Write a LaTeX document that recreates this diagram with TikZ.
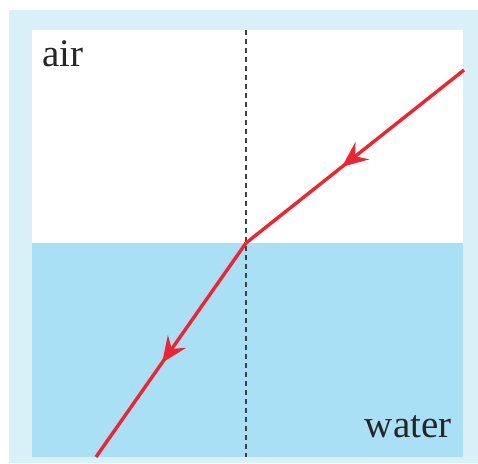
\documentclass[tikz,border=0pt]{standalone}
\usepackage{fontspec}
\setmainfont{Liberation Serif}
\usetikzlibrary{arrows.meta,decorations.markings}
\definecolor{frameblue}{HTML}{D9F0F8}
\definecolor{waterblue}{HTML}{A9E0F6}
\definecolor{rayred}{HTML}{EE2530}
\tikzset{
  medium/.style={fill=#1, draw=none},
  label/.style={font=\fontsize{19.5}{21}\selectfont, text=black!85, inner sep=0pt},
  normal/.style={draw=black!75, line width=0.7pt, dash pattern=on 2.5pt off 2pt},
  ray/.style={draw=rayred, line width=1.7pt, line join=round,
    postaction={decorate, decoration={markings,
      mark=at position 0.56 with {\arrow{Stealth[length=13pt,width=11pt,inset=4.5pt]}}}}}
}
\begin{document}
\begin{tikzpicture}[x=0.5pt,y=-0.5pt]
\useasboundingbox (0,0) rectangle (478,463);
% frame and media
\fill[medium=frameblue] (9,10) rectangle (478,463);
\fill[medium=white] (32,30) rectangle (463,243);
\fill[medium=waterblue] (32,243) rectangle (463,457);
% normal to the surface
\coordinate (ntop) at (246,30);
\coordinate (nbot) at (246,457);
\draw[normal] (ntop) -- (nbot);
% ray
\coordinate (src) at (464,70);
\coordinate (hit) at (246,243);
\coordinate (end) at (96,457);
\draw[ray] (src) -- (hit);
\draw[ray] (hit) -- (end);
% labels
\node[label, anchor=base west] (air) at (42,66) {air};
\node[label, anchor=base east] (water) at (452,437) {water};
\end{tikzpicture}
\end{document}
